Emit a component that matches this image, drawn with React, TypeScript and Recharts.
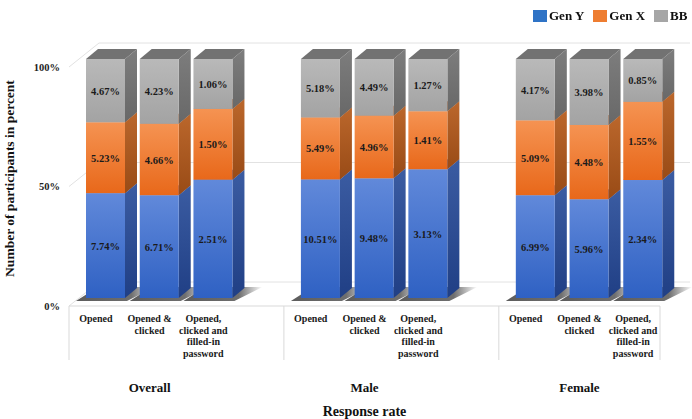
import React from "react";
import {
  BarChart,
  Bar,
  XAxis,
  YAxis,
  CartesianGrid,
  Legend,
  LabelList,
} from "recharts";

// ─── Data ─────────────────────────────────────────────────────────────────────
const groups = ["Overall", "Male", "Female"];
const rates = [
  ["Opened"],
  ["Opened &", "clicked"],
  ["Opened,", "clicked and", "filled-in", "password"],
];
// one row per group, one value per response rate
const genY = [
  [7.74, 6.71, 2.51],
  [10.51, 9.48, 3.13],
  [6.99, 5.96, 2.34],
];
const genX = [
  [5.23, 4.66, 1.5],
  [5.49, 4.96, 1.41],
  [5.09, 4.48, 1.55],
];
const bb = [
  [4.67, 4.23, 1.06],
  [5.18, 4.49, 1.27],
  [4.17, 3.98, 0.85],
];
const yTicks = [0, 0.5, 1];

// an empty slot sits between two groups
type Row = { key: string; group: number; rate: number; gap?: boolean; genY?: number; genX?: number; bb?: number };
const data: Row[] = [];
groups.forEach((g, gi) => {
  if (gi > 0) data.push({ key: `gap-${gi}`, group: gi, rate: -1, gap: true });
  rates.forEach((_, ri) => {
    data.push({
      key: `${g}-${ri}`,
      group: gi,
      rate: ri,
      genY: genY[gi][ri],
      genX: genX[gi][ri],
      bb: bb[gi][ri],
    });
  });
});

// ─── Look ─────────────────────────────────────────────────────────────────────
const FONT = "'Liberation Serif', 'Times New Roman', serif";
const DX = 12; // bar depth
const DY = 10;
const SHIFT_X = 10; // bars stand a bit behind the axis frame
const SHIFT_Y = -8;
const LEFT = 69;
const RIGHT = 660;
const BAND = (RIGHT - LEFT) / data.length;

const series = [
  { id: "gy", key: "genY", name: "Gen Y", legend: "#2f73c6", front: ["#6189da", "#2f61c3"], side: ["#3b5ca2", "#203f85"], top: "#4a6fc0" },
  { id: "gx", key: "genX", name: "Gen X", legend: "#ee7d31", front: ["#f59352", "#e8681a"], side: ["#bb672c", "#994b16"], top: "#c86a2a" },
  { id: "bb", key: "bb", name: "BB", legend: "#a6a6a6", front: ["#b9b9b9", "#a3a3a3"], side: ["#7d7d7d", "#686868"], top: "#727272" },
];

function makeShape(s: (typeof series)[number], withShadow: boolean) {
  return (props: any) => {
    const { x, y, width, height, payload } = props;
    if (!payload || payload.gap || !(height > 0)) return <g />;
    const fx = x + SHIFT_X;
    const fy = y + SHIFT_Y;
    const fb = fy + height;
    const w = width;
    return (
      <g>
        {withShadow && (
          <polygon
            points={`${fx - 10},${fb + 3} ${fx + w + 2},${fb + 3} ${fx + w + DX + 18},${fb - DY - 1} ${fx + DX},${fb - DY - 1}`}
            fill="url(#shadow)"
          />
        )}
        <polygon
          points={`${fx + w},${fy} ${fx + w + DX},${fy - DY} ${fx + w + DX},${fb - DY} ${fx + w},${fb}`}
          fill={`url(#side-${s.id})`}
        />
        <polygon
          points={`${fx},${fy} ${fx + w},${fy} ${fx + w + DX},${fy - DY} ${fx + DX},${fy - DY}`}
          fill={s.top}
        />
        <rect x={fx} y={fy} width={w} height={height} fill={`url(#front-${s.id})`} />
      </g>
    );
  };
}

function ValueLabel(props: any) {
  const vb = props.viewBox ?? props;
  const { x, y, width, height } = vb;
  if (props.value == null || !(height > 0)) return null;
  return (
    <text
      x={x + SHIFT_X + width / 2}
      y={y + SHIFT_Y + height / 2 + 4}
      textAnchor="middle"
      fontFamily={FONT}
      fontWeight="bold"
      fontSize={10.5}
      fill="#1a1a1a"
    >
      {`${Number(props.value).toFixed(2)}%`}
    </text>
  );
}

function RateTick(props: any) {
  const { x, y, index } = props;
  const row = data[index];
  if (!row) return null;
  const lines = row.gap ? [] : rates[row.rate];
  const first = index === 0 || data[index - 1]?.gap;
  const last = index === data.length - 1;
  return (
    <g>
      {first && <line x1={x - BAND / 2} x2={x - BAND / 2} y1={y} y2={y + 54} stroke="#d9d9d9" />}
      {last && <line x1={x + BAND / 2} x2={x + BAND / 2} y1={y} y2={y + 54} stroke="#d9d9d9" />}
      {lines.map((l, i) => (
        <text
          key={i}
          x={x}
          y={y + 16 + i * 11.5}
          textAnchor="middle"
          fontFamily={FONT}
          fontWeight="bold"
          fontSize={10}
          fill="#1a1a1a"
        >
          {l}
        </text>
      ))}
    </g>
  );
}

function GroupTick(props: any) {
  const { x, y, index } = props;
  const row = data[index];
  if (!row || row.gap || row.rate !== 1) return null;
  return (
    <text x={x} y={y + 24} textAnchor="middle" fontFamily={FONT} fontWeight="bold" fontSize={13} fill="#111">
      {groups[row.group]}
    </text>
  );
}

function XTitle(props: any) {
  const vb = props.viewBox ?? { x: LEFT, width: RIGHT - LEFT, y: 368 };
  return (
    <text x={vb.x + vb.width / 2} y={vb.y + 48} textAnchor="middle" fontFamily={FONT} fontWeight="bold" fontSize={14} fill="#111">
      Response rate
    </text>
  );
}

function YTitle(props: any) {
  const vb = props.viewBox ?? { x: 0, y: 67, height: 239 };
  const cx = vb.x + 9;
  const cy = vb.y + vb.height / 2 - 8;
  return (
    <text
      x={cx}
      y={cy}
      transform={`rotate(-90, ${cx}, ${cy})`}
      dy={5}
      textAnchor="middle"
      fontFamily={FONT}
      fontWeight="bold"
      fontSize={13.5}
      fill="#111"
    >
      Number of participants in percent
    </text>
  );
}

function LegendBox() {
  return (
    <div style={{ display: "flex", alignItems: "center", fontFamily: FONT, fontWeight: "bold", fontSize: 13, color: "#111" }}>
      {series.map((s) => (
        <span key={s.id} style={{ display: "flex", alignItems: "center", marginRight: 9 }}>
          <span style={{ width: 14, height: 12, background: s.legend, display: "inline-block", marginRight: 2 }} />
          {s.name}
        </span>
      ))}
    </div>
  );
}

function gridLine(props: any) {
  const { x1, x2, y1, index } = props;
  return (
    <polyline
      key={`g-${index}`}
      points={`${x1},${y1} ${x1 + 30},${y1 - 24} ${x2 + 30},${y1 - 24}`}
      fill="none"
      stroke="#e2e2e2"
      strokeWidth={1}
    />
  );
}

export default function App() {
  return (
    <div style={{ position: "fixed", left: 0, top: 0, background: "#fff" }}>
      <BarChart
        width={692}
        height={419}
        data={data}
        stackOffset="expand"
        margin={{ top: 67, right: 692 - RIGHT, left: 0, bottom: 0 }}
      >
        <defs>
          {series.map((s) => (
            <React.Fragment key={s.id}>
              <linearGradient id={`front-${s.id}`} x1="0" y1="0" x2="0" y2="1">
                <stop offset="0%" stopColor={s.front[0]} />
                <stop offset="100%" stopColor={s.front[1]} />
              </linearGradient>
              <linearGradient id={`side-${s.id}`} x1="0" y1="0" x2="0" y2="1">
                <stop offset="0%" stopColor={s.side[0]} />
                <stop offset="100%" stopColor={s.side[1]} />
              </linearGradient>
            </React.Fragment>
          ))}
          <linearGradient id="shadow" x1="0" y1="0" x2="1" y2="0">
            <stop offset="0%" stopColor="#4a4a4a" stopOpacity={0.9} />
            <stop offset="70%" stopColor="#4a4a4a" stopOpacity={0.8} />
            <stop offset="100%" stopColor="#4a4a4a" stopOpacity={0} />
          </linearGradient>
        </defs>

        <CartesianGrid vertical={false} horizontal={gridLine} />

        <XAxis
          dataKey="key"
          height={62}
          interval={0}
          tickSize={0}
          tickMargin={0}
          axisLine={{ stroke: "#d9d9d9" }}
          tickLine={false}
          tick={<RateTick />}
        />
        <XAxis
          xAxisId="grp"
          dataKey="key"
          height={51}
          interval={0}
          tickSize={0}
          tickMargin={0}
          axisLine={false}
          tickLine={false}
          tick={<GroupTick />}
          label={{ content: (p: any) => <XTitle {...p} /> }}
        />
        <YAxis
          width={LEFT}
          domain={[0, 1]}
          ticks={yTicks}
          tickFormatter={(v: number) => `${Math.round(v * 100)}%`}
          axisLine={false}
          tickLine={false}
          tickSize={0}
          tickMargin={9}
          tick={{ fill: "#222", fontSize: 10.5, fontWeight: "bold", fontFamily: FONT }}
          label={{ content: (p: any) => <YTitle {...p} /> }}
        />

        <Legend
          layout="horizontal"
          verticalAlign="middle"
          align="center"
          content={<LegendBox />}
          wrapperStyle={{ top: 8, left: 533, width: 170, height: 14 }}
        />

        {series.map((s, i) => (
          <Bar
            key={s.id}
            dataKey={s.key}
            name={s.name}
            stackId="a"
            barSize={39}
            fill={s.legend}
            shape={makeShape(s, i === 0)}
            isAnimationActive={false}
          >
            <LabelList dataKey={s.key} content={<ValueLabel />} />
          </Bar>
        ))}
      </BarChart>
    </div>
  );
}
